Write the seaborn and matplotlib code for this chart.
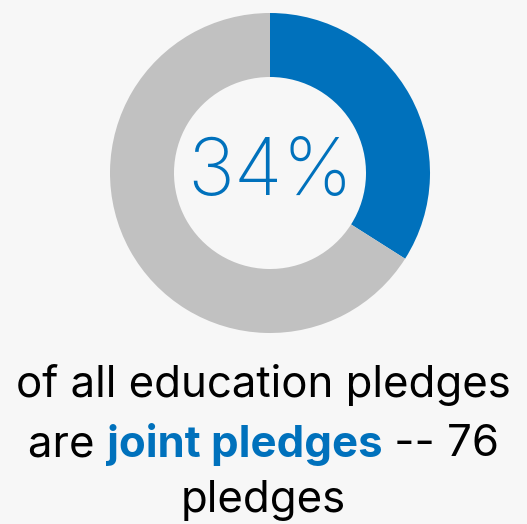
import matplotlib
matplotlib.use("Agg")
import matplotlib.pyplot as plt
import seaborn as sns
from matplotlib.offsetbox import TextArea, HPacker, AnchoredOffsetbox

# Share of education pledges that are joint pledges
categories = ["Joint pledges", "Other pledges"]
shares = [34, 66]
joint_count = 76
headline = "34%"

BG = "#f7f7f7"
BLUE = "#0071bc"
GREY = "#c1c1c1"

sns.set_theme(style="white", rc={"figure.facecolor": BG, "axes.facecolor": BG})
plt.rcParams["font.family"] = ["Inter", "DejaVu Sans"]

fig = plt.figure(figsize=(5.27, 5.24), dpi=100)

# donut: centre at (270, 173) px, outer radius 160 px
cx, cy, r = 270 / 527, 1 - 173 / 524, 160
w, h = 2 * r / 527, 2 * r / 524
ax = fig.add_axes([cx - w / 2, cy - h / 2, w, h])
ax.pie(shares, colors=[BLUE, GREY], startangle=90, counterclock=False,
       radius=1.0, wedgeprops=dict(width=0.4, edgecolor="none"))
ax.set_xlim(-1, 1)
ax.set_ylim(-1, 1)
ax.set_aspect("equal")
ax.axis("off")

ax.text(0, -0.005, headline, ha="center", va="center", color=BLUE,
        fontsize=57, fontweight="light")

# caption below the donut
fs = 31.5
fig.text(0.5, 1 - 397 / 524, "of all education pledges", ha="center",
         va="baseline", fontsize=fs, color="black")
fig.text(0.5, 1 - 512 / 524, "pledges", ha="center", va="baseline",
         fontsize=fs, color="black")

parts = [TextArea("are ", textprops=dict(fontsize=fs, color="black")),
         TextArea("joint pledges", textprops=dict(fontsize=fs, color=BLUE,
                                                   fontweight="bold")),
         TextArea(f" -- {joint_count}", textprops=dict(fontsize=fs, color="black"))]
row = HPacker(children=parts, align="baseline", pad=0, sep=0)
box = AnchoredOffsetbox(loc="center", child=row, pad=0, frameon=False,
                        bbox_to_anchor=(0.5, 1 - 444 / 524),
                        bbox_transform=fig.transFigure, borderpad=0)
fig.add_artist(box)

fig.savefig("out.png", dpi=100, facecolor=BG)
